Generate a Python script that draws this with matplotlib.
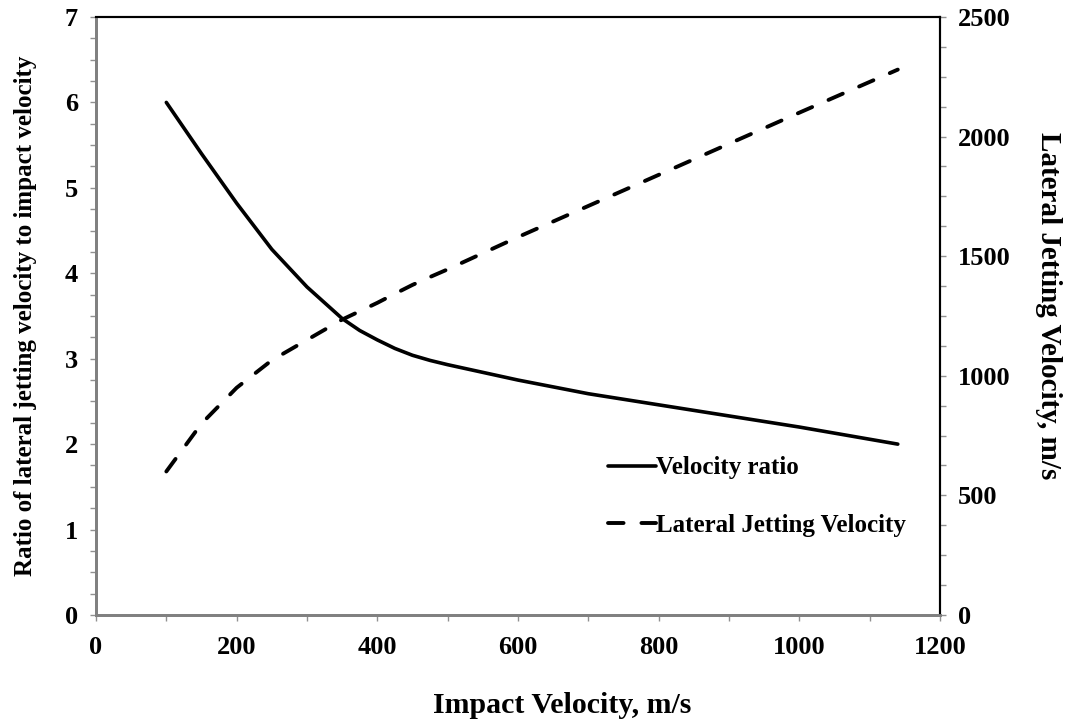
import numpy as np
import matplotlib.pyplot as plt
from matplotlib.ticker import MultipleLocator

# impact velocity (m/s)
impact_velocity = [100, 150, 200, 250, 300, 350, 375, 400, 425, 450, 475, 500,
                   600, 700, 800, 900, 1000, 1140]
# ratio of lateral jetting velocity to impact velocity
velocity_ratio = [6.0, 5.4, 4.82, 4.28, 3.84, 3.47, 3.33, 3.22, 3.12, 3.04, 2.98, 2.93,
                  2.75, 2.59, 2.46, 2.33, 2.2, 2.0]
# lateral jetting velocity (m/s)
lateral_velocity = [600, 800, 950, 1065, 1150, 1235, 1270, 1305, 1343, 1380, 1413, 1445,
                    1580, 1710, 1840, 1970, 2100, 2280]

plt.rcParams['font.family'] = ['Liberation Serif', 'DejaVu Serif']
plt.rcParams['font.weight'] = 'bold'

fig = plt.figure(figsize=(10.75, 7.23), dpi=100)
ax = fig.add_axes([0.0893, 0.1494, 0.7851, 0.8271])
ax2 = ax.twinx()

l1, = ax.plot(impact_velocity, velocity_ratio, color='black', lw=2.6,
              solid_capstyle='round', solid_joinstyle='round', label='Velocity ratio')
l2, = ax2.plot(impact_velocity, lateral_velocity, color='black', lw=2.8,
               dashes=(4.0, 4.6), dash_capstyle='round', label='Lateral Jetting Velocity')

ax.set_xlim(0, 1200)
ax.set_ylim(0, 7)
ax2.set_ylim(0, 2500)

ax.xaxis.set_major_locator(MultipleLocator(200))
ax.xaxis.set_minor_locator(MultipleLocator(100))
ax.yaxis.set_major_locator(MultipleLocator(1))
ax.yaxis.set_minor_locator(MultipleLocator(0.25))
ax2.yaxis.set_major_locator(MultipleLocator(500))
ax2.yaxis.set_minor_locator(MultipleLocator(125))

# spines: gray on left/bottom, black on top/right
for a in (ax, ax2):
    a.spines['left'].set_color('#808080')
    a.spines['bottom'].set_color('#808080')
    a.spines['left'].set_linewidth(2.0)
    a.spines['bottom'].set_linewidth(2.0)
    a.spines['top'].set_color('black')
    a.spines['right'].set_color('black')
    a.spines['top'].set_linewidth(1.5)
    a.spines['right'].set_linewidth(1.5)

ax.tick_params(which='both', direction='out', color='#909090', width=1, length=4,
               labelsize=19, pad=9)
ax.tick_params(axis='x', pad=11)
ax2.tick_params(which='both', direction='out', color='#909090', width=1, length=4,
                labelsize=19, pad=9)

for lbl in ax.get_xticklabels() + ax.get_yticklabels() + ax2.get_yticklabels():
    lbl.set_fontweight('bold')

ax.set_xlabel('Impact Velocity, m/s', fontsize=21.5, fontweight='bold')
ax.xaxis.set_label_coords(0.552, -0.129)
ax.set_ylabel('Ratio of lateral jetting velocity to impact velocity', fontsize=18,
              fontweight='bold', labelpad=20)
ax2.set_ylabel('Lateral Jetting Velocity, m/s', fontsize=21, fontweight='bold',
               rotation=270, va='center')
ax2.yaxis.set_label_coords(1.129, 0.517)

leg = ax.legend(handles=[l1, l2], loc='upper left', bbox_to_anchor=(0.58, 0.303),
                frameon=False, handlelength=1.9, handletextpad=0.0, labelspacing=1.38,
                prop={'family': 'Liberation Serif', 'weight': 'bold', 'size': 18})

fig.savefig('out.png', dpi=100)
